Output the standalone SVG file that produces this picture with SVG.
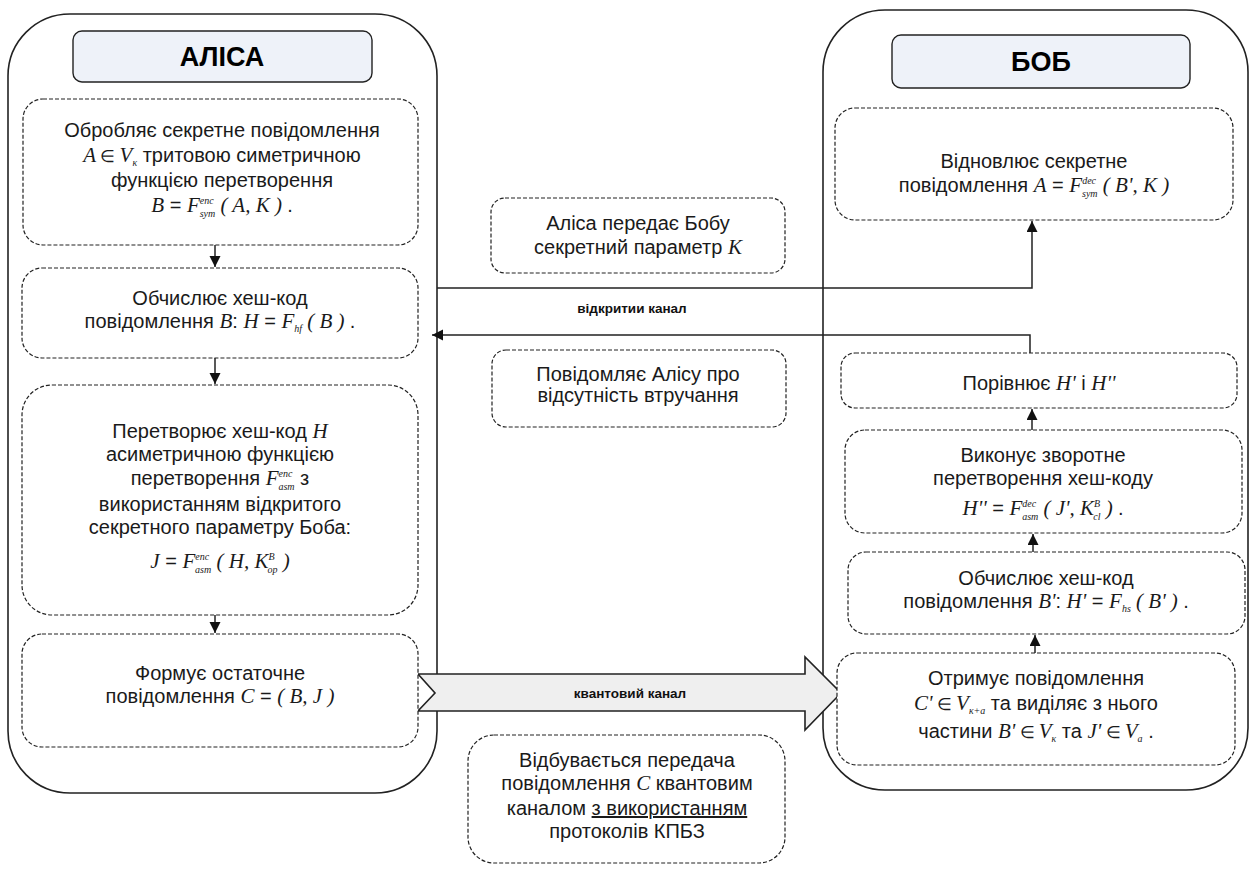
<svg xmlns="http://www.w3.org/2000/svg" width="1252" height="869" viewBox="0 0 1252 869">
<style>
.outer{fill:#fff;stroke:#222;stroke-width:1.6}
.hdr{fill:#eef2f9;stroke:#222;stroke-width:1.4}
.box{fill:#fff;stroke:#222;stroke-width:1.2;stroke-dasharray:4 2}
.t{font-family:"Liberation Sans",Arial,sans-serif;font-size:20px;fill:#1a1a1a;text-anchor:middle}
.h{font-family:"Liberation Sans",Arial,sans-serif;font-size:27px;font-weight:bold;fill:#000;text-anchor:middle}
.lbl{font-family:"Liberation Sans",Arial,sans-serif;font-size:13.5px;font-weight:bold;fill:#111;text-anchor:middle}
.m{font-family:"Liberation Serif","Times New Roman",serif;font-style:italic;font-size:21px}
.e{font-family:"Liberation Serif","Times New Roman",serif;font-size:17px}
.s{font-family:"Liberation Serif","Times New Roman",serif;font-style:italic;font-size:10px}
.ln{fill:none;stroke:#222;stroke-width:1.5}
</style>
<defs>
<marker id="ah" markerWidth="12" markerHeight="12" refX="11" refY="5.5" orient="auto" markerUnits="userSpaceOnUse">
<path d="M0,0 L11,5.5 L0,11 Z" fill="#111"/>
</marker>
</defs>

<g id="alice">
<rect class="outer" x="8" y="14" width="429" height="779" rx="62" ry="62"/>
<rect class="hdr" x="73" y="31" width="299" height="51" rx="9"/>
<text class="h" x="222" y="66">АЛІСА</text>
</g>
<g id="bob">
<rect class="outer" x="823" y="10" width="425" height="780" rx="62" ry="62"/>
<rect class="hdr" x="892" y="35" width="298" height="53" rx="9"/>
<text class="h" x="1041" y="71">БОБ</text>
</g>

<g id="connectors">
<line class="ln" x1="215" y1="245" x2="215" y2="267" marker-end="url(#ah)"/>
<line class="ln" x1="215" y1="358" x2="215" y2="384" marker-end="url(#ah)"/>
<line class="ln" x1="215" y1="615" x2="215" y2="633" marker-end="url(#ah)"/>
<polyline class="ln" points="437,288 1032,288 1032,221" marker-end="url(#ah)"/>
<polyline class="ln" points="1030,353 1030,335 432,335" marker-end="url(#ah)"/>
<line class="ln" x1="1032" y1="430" x2="1032" y2="409" marker-end="url(#ah)"/>
<line class="ln" x1="1033" y1="552" x2="1033" y2="534" marker-end="url(#ah)"/>
<line class="ln" x1="1035" y1="653" x2="1035" y2="635" marker-end="url(#ah)"/>
<path d="M418,674 L805,674 L805,657 L841,693 L805,730 L805,711 L418,711 L435,693 Z" fill="#efefef" stroke="#222" stroke-width="1.6" stroke-linejoin="miter"/>
<text class="lbl" x="632" y="313">відкритии канал</text>
<text class="lbl" x="630" y="698">квантовий канал</text>
</g>

<g id="a1">
<rect class="box" x="23" y="99" width="395" height="146" rx="20"/>
<text class="t" x="222" y="137">Обробляє секретне повідомлення</text>
<text class="t" x="222" y="162"><tspan class="m">A</tspan><tspan class="e"> ∈ </tspan><tspan class="m">V</tspan><tspan class="s" dy="4">к</tspan><tspan dy="-4"> тритовою симетричною</tspan></text>
<text class="t" x="222" y="187">функцією перетворення</text>
<text class="t" x="222" y="212"><tspan class="m">B</tspan> = <tspan class="m">F</tspan><tspan class="s" dy="-8">enc</tspan><tspan class="s" dx="-14" dy="13">sym</tspan><tspan class="m" dy="-5"> ( A, K ) </tspan>.</text>
</g>

<g id="a2">
<rect class="box" x="22" y="268" width="396" height="90" rx="20"/>
<text class="t" x="220" y="305">Обчислює хеш-код</text>
<text class="t" x="220" y="328">повідомлення <tspan class="m">B</tspan>: <tspan class="m">H</tspan> = <tspan class="m">F</tspan><tspan class="s" dy="4">hf</tspan><tspan class="m" dy="-4"> ( B ) </tspan>.</text>
</g>

<g id="a3">
<rect class="box" x="22" y="385" width="396" height="230" rx="30"/>
<text class="t" x="220" y="438">Перетворює хеш-код <tspan class="m">H</tspan></text>
<text class="t" x="220" y="461">асиметричною функцією</text>
<text class="t" x="220" y="485">перетворення <tspan class="m">F</tspan><tspan class="s" dy="-8">enc</tspan><tspan class="s" dx="-14" dy="13">asm</tspan><tspan dy="-5"> з</tspan></text>
<text class="t" x="220" y="511">використанням відкритого</text>
<text class="t" x="220" y="534">секретного параметру Боба:</text>
<text class="t" x="220" y="568"><tspan class="m">J</tspan> = <tspan class="m">F</tspan><tspan class="s" dy="-8">enc</tspan><tspan class="s" dx="-14" dy="13">asm</tspan><tspan class="m" dy="-5"> ( H, K</tspan><tspan class="s" dy="-8">B</tspan><tspan class="s" dx="-7" dy="13">op</tspan><tspan class="m" dy="-5"> )</tspan></text>
</g>

<g id="a4">
<rect class="box" x="22" y="634" width="396" height="113" rx="20"/>
<text class="t" x="220" y="680">Формує остаточне</text>
<text class="t" x="220" y="703">повідомлення <tspan class="m">C</tspan> = <tspan class="m">( B, J )</tspan></text>
</g>

<g id="m1">
<rect class="box" x="491" y="198" width="294" height="75" rx="14"/>
<text class="t" x="638" y="230">Аліса передає Бобу</text>
<text class="t" x="638" y="254">секретний параметр <tspan class="m">K</tspan></text>
</g>

<g id="m2">
<rect class="box" x="492" y="350" width="294" height="77" rx="14"/>
<text class="t" x="638" y="381">Повідомляє Алісу про</text>
<text class="t" x="638" y="402">відсутність втручання</text>
</g>

<g id="m3">
<rect class="box" x="468" y="735" width="317" height="128" rx="26"/>
<text class="t" x="627" y="767">Відбувається передача</text>
<text class="t" x="627" y="790">повідомлення <tspan class="m">C</tspan> квантовим</text>
<text class="t" x="627" y="815">каналом <tspan text-decoration="underline">з використанням</tspan></text>
<text class="t" x="627" y="838">протоколів КПБЗ</text>
</g>

<g id="b1">
<rect class="box" x="835" y="108" width="398" height="112" rx="20"/>
<text class="t" x="1034" y="168">Відновлює секретне</text>
<text class="t" x="1034" y="192">повідомлення <tspan class="m">A</tspan> = <tspan class="m">F</tspan><tspan class="s" dy="-8">dec</tspan><tspan class="s" dx="-14" dy="13">sym</tspan><tspan class="m" dy="-5"> ( B', K )</tspan></text>
</g>

<g id="b2">
<rect class="box" x="841" y="353" width="396" height="55" rx="14"/>
<text class="t" x="1039" y="390">Порівнює <tspan class="m">H'</tspan> і <tspan class="m">H''</tspan></text>
</g>

<g id="b3">
<rect class="box" x="845" y="430" width="397" height="103" rx="20"/>
<text class="t" x="1043" y="462">Виконує зворотне</text>
<text class="t" x="1043" y="485">перетворення хеш-коду</text>
<text class="t" x="1043" y="515"><tspan class="m">H''</tspan> = <tspan class="m">F</tspan><tspan class="s" dy="-8">dec</tspan><tspan class="s" dx="-14" dy="13">asm</tspan><tspan class="m" dy="-5"> ( J', K</tspan><tspan class="s" dy="-8">B</tspan><tspan class="s" dx="-7" dy="13">cl</tspan><tspan class="m" dy="-5"> ) </tspan>.</text>
</g>

<g id="b4">
<rect class="box" x="848" y="552" width="397" height="82" rx="18"/>
<text class="t" x="1046" y="585">Обчислює хеш-код</text>
<text class="t" x="1046" y="608">повідомлення <tspan class="m">B'</tspan>: <tspan class="m">H'</tspan> = <tspan class="m">F</tspan><tspan class="s" dy="4">hs</tspan><tspan class="m" dy="-4"> ( B' ) </tspan>.</text>
</g>

<g id="b5">
<rect class="box" x="837" y="653" width="398" height="112" rx="20"/>
<text class="t" x="1036" y="685">Отримує повідомлення</text>
<text class="t" x="1036" y="710"><tspan class="m">C'</tspan><tspan class="e"> ∈ </tspan><tspan class="m">V</tspan><tspan class="s" dy="4">к+а</tspan><tspan dy="-4">  та виділяє з нього</tspan></text>
<text class="t" x="1036" y="738">частини <tspan class="m">B'</tspan><tspan class="e"> ∈ </tspan><tspan class="m">V</tspan><tspan class="s" dy="4">к</tspan><tspan dy="-4"> та </tspan><tspan class="m">J'</tspan><tspan class="e"> ∈ </tspan><tspan class="m">V</tspan><tspan class="s" dy="4">а</tspan><tspan dy="-4"> .</tspan></text>
</g>
</svg>
